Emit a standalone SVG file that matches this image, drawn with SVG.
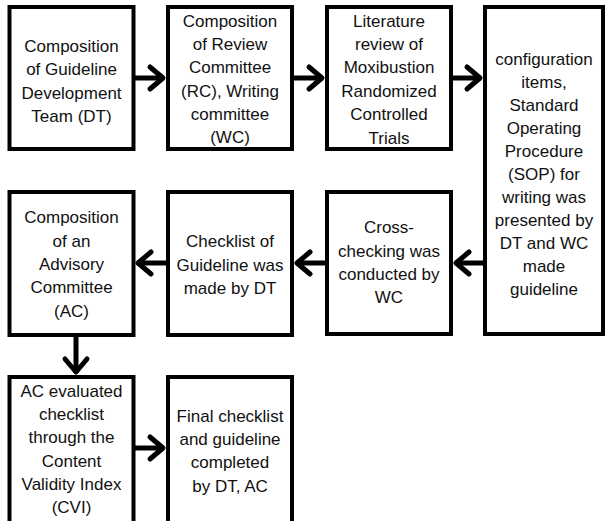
<svg xmlns="http://www.w3.org/2000/svg" width="606" height="521" viewBox="0 0 606 521">
<style>
.box{fill:#fff;stroke:#000;stroke-width:4}
.t{font-family:"Liberation Sans",Arial,sans-serif;font-size:17px;fill:#111;text-anchor:middle}
.c{fill:none;stroke:#000;stroke-width:5}
</style>
<defs>
<marker id="ah" markerUnits="userSpaceOnUse" viewBox="-20 -16 24 32" refX="0" refY="0" markerWidth="24" markerHeight="32" orient="auto">
<path d="M-14,-11 L-1,0 L-14,11" fill="none" stroke="#000" stroke-width="5" stroke-linecap="round" stroke-linejoin="round"/>
</marker>
</defs>
<rect width="606" height="521" fill="#fff"/>
<g id="n1"><rect class="box" x="9.5" y="7" width="124" height="142"/>
<text class="t"><tspan x="71.5" y="52">Composition</tspan><tspan x="71.5" y="75">of Guideline</tspan><tspan x="71.5" y="98.5">Development</tspan><tspan x="71.5" y="122">Team (DT)</tspan></text></g>
<g id="n2"><rect class="box" x="168" y="7" width="124" height="142"/>
<text class="t"><tspan x="230" y="27">Composition</tspan><tspan x="230" y="50">of Review</tspan><tspan x="230" y="73">Committee</tspan><tspan x="230" y="97">(RC), Writing</tspan><tspan x="230" y="120">committee</tspan><tspan x="230" y="143">(WC)</tspan></text></g>
<g id="n3"><rect class="box" x="327" y="7" width="124" height="142"/>
<text class="t"><tspan x="389" y="27">Literature</tspan><tspan x="389" y="50">review of</tspan><tspan x="389" y="73">Moxibustion</tspan><tspan x="389" y="97">Randomized</tspan><tspan x="389" y="120">Controlled</tspan><tspan x="389" y="144">Trials</tspan></text></g>
<g id="n4"><rect class="box" x="485" y="7" width="118" height="327"/>
<text class="t"><tspan x="544" y="65">configuration</tspan><tspan x="544" y="88">items,</tspan><tspan x="544" y="111">Standard</tspan><tspan x="544" y="134">Operating</tspan><tspan x="544" y="157">Procedure</tspan><tspan x="544" y="180">(SOP) for</tspan><tspan x="544" y="203">writing was</tspan><tspan x="544" y="226">presented by</tspan><tspan x="544" y="249">DT and WC</tspan><tspan x="544" y="272">made</tspan><tspan x="544" y="295">guideline</tspan></text></g>
<g id="n5"><rect class="box" x="327" y="192" width="124" height="142"/>
<text class="t"><tspan x="389" y="233">Cross-</tspan><tspan x="389" y="257">checking was</tspan><tspan x="389" y="280">conducted by</tspan><tspan x="389" y="303">WC</tspan></text></g>
<g id="n6"><rect class="box" x="168" y="192" width="124" height="143"/>
<text class="t"><tspan x="230" y="247">Checklist of</tspan><tspan x="230" y="270.5">Guideline was</tspan><tspan x="230" y="294">made by DT</tspan></text></g>
<g id="n7"><rect class="box" x="9.5" y="192" width="124" height="143"/>
<text class="t"><tspan x="71.5" y="223">Composition</tspan><tspan x="71.5" y="247">of an</tspan><tspan x="71.5" y="270">Advisory</tspan><tspan x="71.5" y="293">Committee</tspan><tspan x="71.5" y="317">(AC)</tspan></text></g>
<g id="n8"><rect class="box" x="9.5" y="377" width="124" height="150"/>
<text class="t"><tspan x="71.5" y="397">AC evaluated</tspan><tspan x="71.5" y="420">checklist</tspan><tspan x="71.5" y="443">through the</tspan><tspan x="71.5" y="467">Content</tspan><tspan x="71.5" y="490">Validity Index</tspan><tspan x="71.5" y="513">(CVI)</tspan></text></g>
<g id="n9"><rect class="box" x="168" y="377" width="124" height="150"/>
<text class="t"><tspan x="230" y="422">Final checklist</tspan><tspan x="230" y="445">and guideline</tspan><tspan x="230" y="468">completed</tspan><tspan x="230" y="492">by DT, AC</tspan></text></g>
<g id="connectors">
<path class="c" d="M135,78 L164,78" marker-end="url(#ah)"/>
<path class="c" d="M294,78 L323,78" marker-end="url(#ah)"/>
<path class="c" d="M453,78 L481,78" marker-end="url(#ah)"/>
<path class="c" d="M483,263 L455,263" marker-end="url(#ah)"/>
<path class="c" d="M325,263 L296,263" marker-end="url(#ah)"/>
<path class="c" d="M166,263 L137,263" marker-end="url(#ah)"/>
<path class="c" d="M76,337 L76,373" marker-end="url(#ah)"/>
<path class="c" d="M135,448 L164,448" marker-end="url(#ah)"/>
</g>
</svg>
